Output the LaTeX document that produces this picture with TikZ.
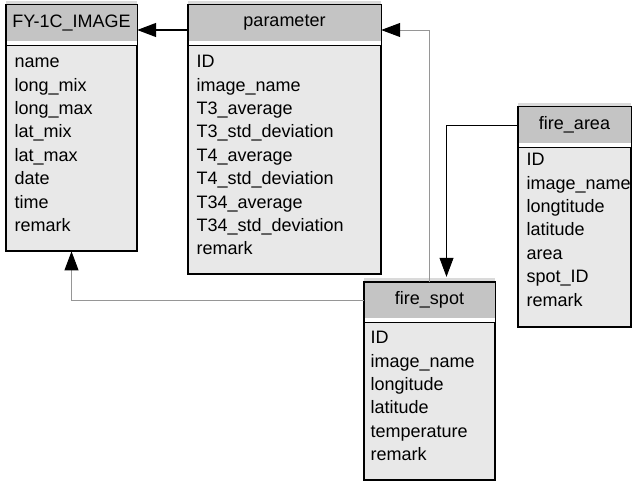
\documentclass[tikz,border=0pt]{standalone}
\usepackage{fontspec}
\setmainfont{Liberation Sans}
\usetikzlibrary{arrows.meta, positioning}
\definecolor{hdgray}{RGB}{196,196,196}
\definecolor{bdgray}{RGB}{232,232,232}
\definecolor{fkgray}{RGB}{150,150,150}
\definecolor{shdgray}{RGB}{218,218,218}
\newcommand{\tabfont}{\fontsize{18}{23.4}\selectfont}

\begin{document}
\begin{tikzpicture}[
    x=1pt, y=-1pt,
    tabhead/.style={rectangle, fill=hdgray, minimum height=36pt, inner sep=0pt, font=\tabfont},
    tabbody/.style={rectangle, draw=black, line width=1.2pt, fill=bdgray, inner sep=0pt},
    tabfields/.style={anchor=north west, align=left, inner sep=0pt, font=\tabfont},
    tabframe/.style={draw=black, line width=1.4pt},
    arrow/.style={-{Triangle[length=19pt, width=14pt, color=black]}},
    fklink/.style={arrow, fkgray, line width=0.9pt}
]

\useasboundingbox (0,0) rectangle (632,481);

% FY-1C_IMAGE
\fill[shdgray] (6,1) rectangle (137,5);
\node[tabhead, minimum width=131pt] (img-h) at (71.5,23) {FY-1C\_IMAGE};
\node[tabbody, below=4pt of img-h, minimum width=131pt, minimum height=205pt] (img-b) {};
\node[tabfields] (img-f) at ([xshift=9pt, yshift=-6pt]img-b.north west) {\strut name\\long\_mix\\long\_max\\lat\_mix\\lat\_max\\date\\time\\remark};
\draw[tabframe] (img-h.north west) rectangle (img-b.south east);

% parameter
\fill[shdgray] (188,1) rectangle (381,5);
\node[tabhead, minimum width=193pt] (par-h) at (284.5,23) {parameter};
\node[tabbody, below=4pt of par-h, minimum width=193pt, minimum height=228pt] (par-b) {};
\node[tabfields] (par-f) at ([xshift=9pt, yshift=-6pt]par-b.north west) {\strut ID\\image\_name\\T3\_average\\T3\_std\_deviation\\T4\_average\\T4\_std\_deviation\\T34\_average\\T34\_std\_deviation\\remark};
\draw[tabframe] (par-h.north west) rectangle (par-b.south east);

% fire_area
\fill[shdgray] (518,103) rectangle (631,107);
\node[tabhead, minimum width=113pt] (fa-h) at (574.5,125) {fire\_area};
\node[tabbody, below=4pt of fa-h, minimum width=113pt, minimum height=179pt] (fa-b) {};
\node[tabfields] (fa-f) at ([xshift=9pt, yshift=-2pt]fa-b.north west) {\strut ID\\image\_name\\longtitude\\latitude\\area\\spot\_ID\\remark};
\draw[tabframe] (fa-h.north west) rectangle (fa-b.south east);

% fire_spot
\fill[shdgray] (364,278) rectangle (495,282);
\node[tabhead, minimum width=131pt] (fs-h) at (429.5,300) {fire\_spot};
\node[tabbody, below=4pt of fs-h, minimum width=131pt, minimum height=157pt] (fs-b) {};
\node[tabfields] (fs-f) at ([xshift=7pt, yshift=-5pt]fs-b.north west) {\strut ID\\image\_name\\longitude\\latitude\\temperature\\remark};
\draw[tabframe] (fs-h.north west) rectangle (fs-b.south east);

% links
\draw[arrow, line width=1.4pt] ([yshift=-7pt]par-h.west) -- ([yshift=-7pt]img-h.east);
\draw[fklink] (fs-h.north) |- ([yshift=-7pt]par-h.east);
\draw[arrow, line width=0.8pt, shorten >=5pt] (fa-h.west) -| ([xshift=17pt]fs-h.north);
\draw[fklink] (fs-h.west) -| (img-b.south);

\end{tikzpicture}
\end{document}
